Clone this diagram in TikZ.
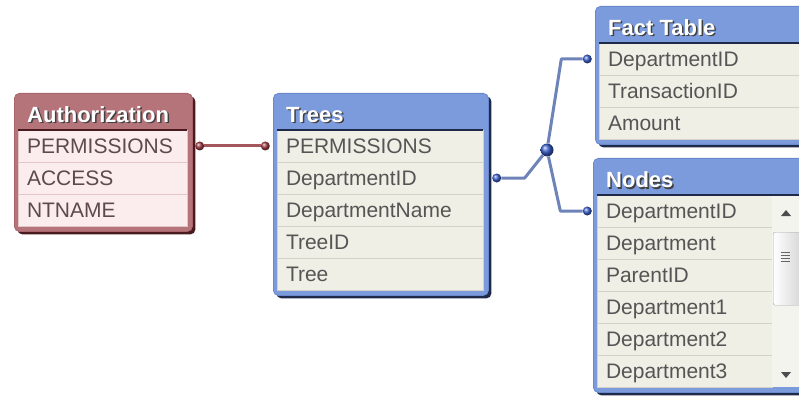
\documentclass[tikz,border=0pt]{standalone}
\usepackage{fontspec}
\setmainfont{Liberation Sans}
\usetikzlibrary{positioning, shadows}

\definecolor{headblue}{HTML}{7B9BDC}
\definecolor{edgeblue}{HTML}{6A88CC}
\definecolor{shadeblue}{HTML}{1E2A48}
\definecolor{headred}{HTML}{B5737A}
\definecolor{edgered}{HTML}{A8666C}
\definecolor{shadered}{HTML}{4A1A1E}
\definecolor{rowfill}{HTML}{EFEFE6}
\definecolor{rowline}{HTML}{D2D2C8}
\definecolor{rowtext}{HTML}{555555}
\definecolor{pinkfill}{HTML}{FBEDEE}
\definecolor{pinkline}{HTML}{E2C6C8}
\definecolor{pinktext}{HTML}{5E4A4A}
\definecolor{linkblue}{HTML}{6E83B8}
\definecolor{linkred}{HTML}{A3575D}
\definecolor{dotblue}{HTML}{3A60D0}
\definecolor{dotred}{HTML}{A03C44}
\definecolor{scrollbg}{HTML}{F4F4EF}

\newcommand{\rowfont}{\fontsize{21}{24}\selectfont}
\newcommand{\titlefont}{\bfseries\fontsize{22}{26}\selectfont}

\begin{document}
\begin{tikzpicture}[
        x=1pt, y=-1pt,
        blueframe/.style={rectangle, rounded corners=5pt, draw=edgeblue, line width=0.8pt, fill=headblue, anchor=north west,
            drop shadow={shadow xshift=3pt, shadow yshift=-3pt, opacity=1, fill=shadeblue}}, % table box
        redframe/.style={rectangle, rounded corners=5pt, draw=edgered, line width=0.8pt, fill=headred, anchor=north west,
            drop shadow={shadow xshift=3pt, shadow yshift=-3pt, opacity=1, fill=shadered}},
        tablerow/.style={rectangle, draw=rowline, fill=rowfill, minimum height=32pt, inner xsep=9pt, inner ysep=0pt,
            outer sep=0pt, align=left, text=rowtext, font=\rowfont, text height=15pt, text depth=0pt},
        pinkrow/.style={tablerow, draw=pinkline, fill=pinkfill, text=pinktext},
        titletext/.style={inner sep=0pt, text=white, font=\titlefont},
        titleshade/.style={inner sep=0pt, text=black!75, font=\titlefont},
        headline/.style={line width=2pt, shadeblue},
        blueball/.style={circle, inner sep=0pt, minimum size=9pt, ball color=dotblue},
        redball/.style={circle, inner sep=0pt, minimum size=9pt, ball color=dotred},
        bluelink/.style={line width=3pt, linkblue, line join=round},
        redlink/.style={line width=3pt, linkred},
        scrollbar/.style={rectangle, fill=scrollbg, inner sep=0pt, outer sep=0pt},
        scrollthumb/.style={rectangle, rounded corners=2pt, draw=black!35, left color=white, right color=black!18,
            inner sep=0pt, anchor=north west}
    ]
    \useasboundingbox (0,0) rectangle (799,398);
    \clip (0,0) rectangle (799,398);

    % Authorization table
    \node (auth) [redframe, minimum width=178pt, minimum height=138pt] at (14,93) {};
    \node (authShade) [titleshade, below right=31pt and 14.5pt of auth.north west, anchor=base west] {Authorization};
    \node (authTitle) [titletext, below right=29.5pt and 13pt of auth.north west, anchor=base west] {Authorization};
    \node (auth1) [pinkrow, text width=151pt, below right=37pt and 4pt of auth.north west] {PERMISSIONS};
    \node (auth2) [pinkrow, text width=151pt, below=0pt of auth1] {ACCESS};
    \node (auth3) [pinkrow, text width=151pt, below=0pt of auth2] {NTNAME};
    \draw[headline, shadered] (auth1.north west) -- (auth1.north east);

    % Trees table
    \node (trees) [blueframe, minimum width=215pt, minimum height=202pt] at (273,93) {};
    \node (treesShade) [titleshade, below right=31pt and 14.5pt of trees.north west, anchor=base west] {Trees};
    \node (treesTitle) [titletext, below right=29.5pt and 13pt of trees.north west, anchor=base west] {Trees};
    \node (trees1) [tablerow, text width=188pt, below right=37pt and 4pt of trees.north west] {PERMISSIONS};
    \node (trees2) [tablerow, text width=188pt, below=0pt of trees1] {DepartmentID};
    \node (trees3) [tablerow, text width=188pt, below=0pt of trees2] {DepartmentName};
    \node (trees4) [tablerow, text width=188pt, below=0pt of trees3] {TreeID};
    \node (trees5) [tablerow, text width=188pt, below=0pt of trees4] {Tree};
    \draw[headline] (trees1.north west) -- (trees1.north east);

    % Fact Table
    \node (fact) [blueframe, minimum width=240pt, minimum height=138pt] at (595,6) {};
    \node (factShade) [titleshade, below right=31pt and 14.5pt of fact.north west, anchor=base west] {Fact Table};
    \node (factTitle) [titletext, below right=29.5pt and 13pt of fact.north west, anchor=base west] {Fact Table};
    \node (fact1) [tablerow, text width=208pt, below right=37pt and 4pt of fact.north west] {DepartmentID};
    \node (fact2) [tablerow, text width=208pt, below=0pt of fact1] {TransactionID};
    \node (fact3) [tablerow, text width=208pt, below=0pt of fact2] {Amount};
    \draw[headline] (fact1.north west) -- (fact1.north east);

    % Nodes table
    \node (nodes) [blueframe, minimum width=240pt, minimum height=234pt] at (593,158) {};
    \node (nodesShade) [titleshade, below right=31pt and 14.5pt of nodes.north west, anchor=base west] {Nodes};
    \node (nodesTitle) [titletext, below right=29.5pt and 13pt of nodes.north west, anchor=base west] {Nodes};
    \node (nodes1) [tablerow, text width=157pt, below right=37pt and 4pt of nodes.north west] {DepartmentID};
    \node (nodes2) [tablerow, text width=157pt, below=0pt of nodes1] {Department};
    \node (nodes3) [tablerow, text width=157pt, below=0pt of nodes2] {ParentID};
    \node (nodes4) [tablerow, text width=157pt, below=0pt of nodes3] {Department1};
    \node (nodes5) [tablerow, text width=157pt, below=0pt of nodes4] {Department2};
    \node (nodes6) [tablerow, text width=157pt, below=0pt of nodes5] {Department3};

    % Scroll bar
    \node (nodesScroll) [scrollbar, minimum width=40pt, minimum height=192pt, below right=0pt and 0pt of nodes1.north east] {};
    \node (nodesThumb) [scrollthumb, minimum width=32pt, minimum height=73pt] at ([xshift=1pt, yshift=-37pt]nodesScroll.north west) {};
    \foreach \k in {0,...,3}
        \draw[black!60, line width=1pt] ([xshift=8pt, yshift={-20pt-3pt*\k}]nodesThumb.north west) -- ++(9,0);
    \fill[black!70] ([xshift=14pt, yshift=-15pt]nodesScroll.north west) -- ++(-5,6) -- ++(10,0) -- cycle;
    \fill[black!70] ([xshift=14pt, yshift=9pt]nodesScroll.south west) -- ++(-5,-6) -- ++(10,0) -- cycle;
    \draw[headline] (nodes1.north west) -- (nodesScroll.north east);

    % Link dots
    \node (authDot) [redball, right=8pt of auth1] {};
    \node (treesDotL) [redball, left=7pt of trees1] {};
    \node (treesDotR) [blueball, right=9pt of trees2] {};
    \node (factDot) [blueball, left=7pt of fact1] {};
    \node (nodesDot) [blueball, left=5pt of nodes1] {};
    \node (hub) [blueball, minimum size=13pt] at (547,150) {};

    % Links
    \draw[redlink] (authDot) -- (treesDotL);
    \draw[bluelink] (treesDotR) -- ([xshift=28pt]treesDotR.center) -- (hub);
    \draw[bluelink] (hub) -- ([xshift=-26pt]factDot.center) -- (factDot);
    \draw[bluelink] (hub) -- ([xshift=-27pt]nodesDot.center) -- (nodesDot);

\end{tikzpicture}
\end{document}
